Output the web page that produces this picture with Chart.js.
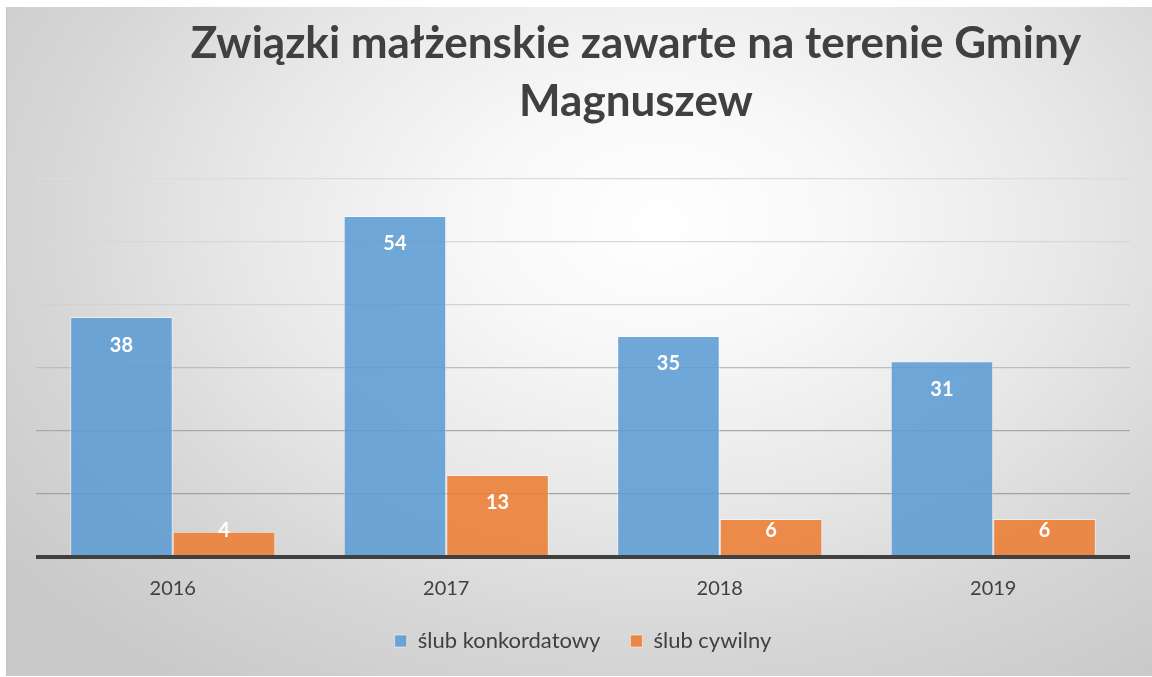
<!DOCTYPE html>
<html><head><meta charset="utf-8">
<script src="https://cdn.jsdelivr.net/npm/chart.js@4.4.1/dist/chart.umd.min.js"></script>
<style>
html,body{margin:0;padding:0;background:#fff;}
#wrap{position:relative;width:1152px;height:677px;overflow:hidden;background:#fff;}
#bg{position:absolute;left:6px;top:7px;width:1146px;height:669px;border-left:1px solid #c4c4c4;
background:radial-gradient(ellipse 72% 85% at 57% 32%, #ffffff 0%, #f8f8f8 22%, #e8e8e8 50%, #d6d6d6 75%, #c9c9c9 100%);}
canvas{position:absolute;left:0;top:0;}
</style></head><body>
<div id="wrap"><div id="bg"></div><canvas id="c" width="1152" height="677"></canvas></div>
<script>
const categories = ['2016', '2017', '2018', '2019'];
const slubKonkordatowy = [38, 54, 35, 31];
const slubCywilny = [4, 13, 6, 6];
const seriesNames = ['ślub konkordatowy', 'ślub cywilny'];
const titleLines = ['Związki małżenskie zawarte na terenie Gminy', 'Magnuszew'];
const yMin = 0, yMax = 60, yStep = 10;

const FONT = 'Lato, "Open Sans", sans-serif';
const gridColors = ['#404040', '#a2a2a2', '#a9a9a9', '#bdbdbd', '#d2d2d2', '#d8d8d8', '#dcdcdc'];

const titleShift = {
  id: 'titleShift',
  afterLayout(chart) {
    if (chart.titleBlock) { chart.titleBlock.left = 120; chart.titleBlock.right = 1152; }
  }
};
const barLabels = {
  id: 'barLabels',
  afterDatasetsDraw(chart) {
    const ctx = chart.ctx;
    ctx.save();
    ctx.fillStyle = '#ffffff';
    ctx.font = 'bold 20px ' + FONT;
    ctx.textAlign = 'center';
    ctx.textBaseline = 'middle';
    chart.data.datasets.forEach((ds, i) => {
      chart.getDatasetMeta(i).data.forEach((bar, j) => {
        const y = Math.min(bar.y + 28, bar.base - 24);
        ctx.fillText(String(ds.data[j]), bar.x, y);
      });
    });
    ctx.restore();
  }
};

new Chart(document.getElementById('c'), {
  type: 'bar',
  data: {
    labels: categories,
    datasets: [
      { label: seriesNames[0], data: slubKonkordatowy, backgroundColor: 'rgba(91,155,213,0.87)', borderColor: 'rgba(255,255,255,0.5)', borderWidth: 1, borderSkipped: 'bottom' },
      { label: seriesNames[1], data: slubCywilny, backgroundColor: 'rgba(237,125,49,0.87)', borderColor: 'rgba(255,255,255,0.5)', borderWidth: 1, borderSkipped: 'bottom' }
    ]
  },
  options: {
    responsive: false,
    animation: false,
    devicePixelRatio: 1,
    layout: { padding: { left: 36, right: 22, top: 0, bottom: 15 } },
    datasets: { bar: { barPercentage: 1, categoryPercentage: 0.75 } },
    scales: {
      x: {
        grid: { display: false, drawTicks: false },
        border: { display: false },
        ticks: { color: '#404040', font: { family: FONT, size: 20, lineHeight: 1.2 }, padding: 20 },
        afterFit(scale) { scale.height = 43; }
      },
      y: {
        min: yMin, max: yMax,
        ticks: { display: false, stepSize: yStep },
        border: { display: false },
        grid: {
          drawTicks: false,
          color: (c) => gridColors[c.index] || '#d0d0d0',
          lineWidth: (c) => c.index === 0 ? 4 : 1.2
        }
      }
    },
    plugins: {
      title: {
        display: true,
        text: titleLines,
        color: '#404040',
        font: { family: FONT, size: 44, weight: 'bold', lineHeight: 1.32 },
        padding: { top: 15, bottom: 47 }
      },
      legend: {
        position: 'bottom',
        labels: { color: '#404040', font: { family: FONT, size: 22 }, boxWidth: 12, boxHeight: 12, padding: 30 }
      },
      tooltip: { enabled: false }
    }
  },
  plugins: [titleShift, barLabels]
});
</script>
</body></html>
